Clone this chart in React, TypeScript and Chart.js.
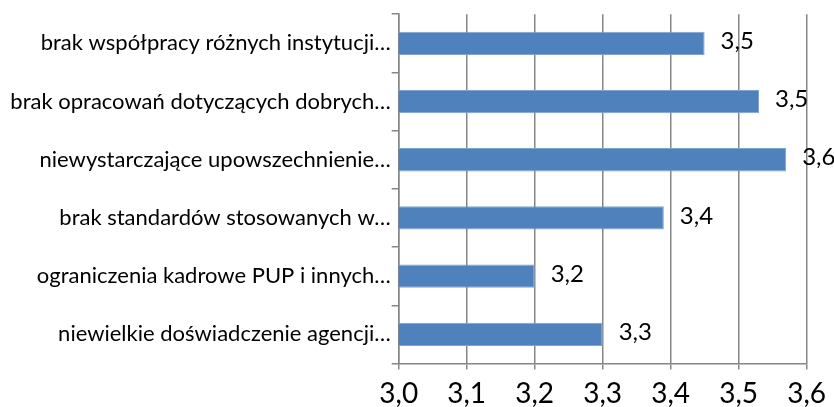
import React, { useEffect, useRef } from "react";
import { Chart, registerables } from "chart.js";

Chart.register(...registerables);

const categories: string[] = [
  "brak współpracy różnych instytucji…",
  "brak opracowań dotyczących dobrych…",
  "niewystarczające upowszechnienie…",
  "brak standardów stosowanych w…",
  "ograniczenia kadrowe PUP i innych…",
  "niewielkie doświadczenie agencji…",
];
const values: number[] = [3.45, 3.53, 3.57, 3.39, 3.2, 3.3];
const axisMin = 3.0;
const axisMax = 3.6;
const axisStep = 0.1;

const fmt = (v: number) => v.toFixed(1).replace(".", ",");

const FONT = "Lato, 'Open Sans', sans-serif";
const GRID = "#868686";

const dataLabels = {
  id: "dataLabels",
  afterDatasetsDraw(chart: any) {
    const ctx = chart.ctx;
    const meta = chart.getDatasetMeta(0);
    ctx.save();
    ctx.font = `24px ${FONT}`;
    ctx.fillStyle = "#000";
    ctx.textAlign = "left";
    ctx.textBaseline = "middle";
    meta.data.forEach((bar: any, i: number) => {
      ctx.fillText(fmt(values[i]), bar.x + 16, bar.y - 2);
    });
    ctx.restore();
  },
};

export default function App() {
  const ref = useRef<HTMLCanvasElement>(null);
  useEffect(() => {
    if (!ref.current) return;
    const chart = new Chart(ref.current, {
      type: "bar",
      data: {
        labels: categories,
        datasets: [
          {
            data: values,
            backgroundColor: "#4F81BD",
            borderColor: "#7EA3D0",
            borderWidth: 1,
            categoryPercentage: 1,
            barPercentage: 0.4,
          },
        ],
      },
      options: {
        indexAxis: "y",
        animation: false,
        responsive: true,
        maintainAspectRatio: false,
        layout: { padding: { top: 12, right: 27, left: 0, bottom: 0 } },
        plugins: {
          legend: { display: false },
          tooltip: { enabled: false },
        },
        scales: {
          x: {
            min: axisMin,
            max: axisMax,
            ticks: {
              stepSize: axisStep,
              color: "#000",
              font: { family: FONT, size: 28 },
              padding: 8,
              maxRotation: 0,
              callback: (v: any) => fmt(Number(v)),
            },
            grid: {
              color: GRID,
              lineWidth: 1.5,
              tickLength: 6,
              drawTicks: true,
            },
            border: { color: GRID, width: 1.5 },
            afterFit: (s: any) => {
              s.height = 43.5;
            },
          },
          y: {
            ticks: {
              color: "#000",
              font: { family: FONT, size: 22 },
              padding: 1,
            },
            grid: {
              drawOnChartArea: false,
              drawTicks: true,
              tickLength: 7,
              color: GRID,
              lineWidth: 1.5,
              offset: true,
            },
            border: { color: GRID, width: 1.5 },
            afterFit: (s: any) => {
              s.width = 398.7;
            },
          },
        },
      },
      plugins: [dataLabels],
    });
    return () => chart.destroy();
  }, []);
  return (
    <div style={{ position: "fixed", left: 0, top: 0, width: 834, height: 407, background: "#fff" }}>
      <canvas ref={ref} />
    </div>
  );
}
